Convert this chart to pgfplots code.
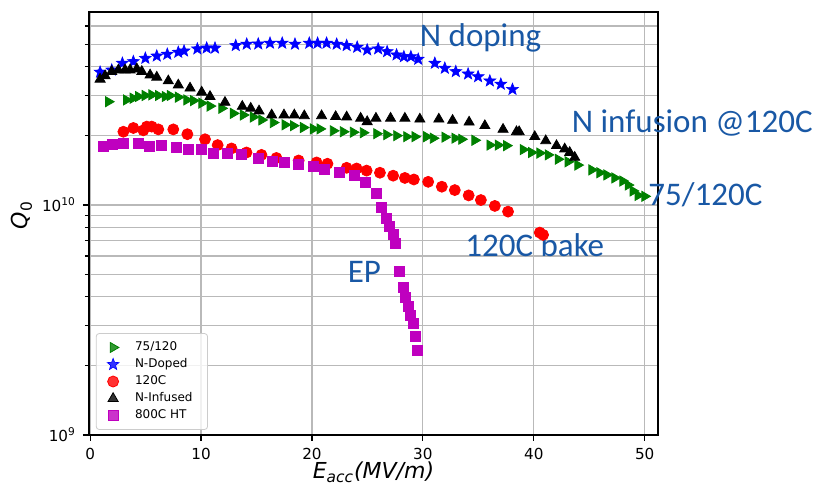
\documentclass[border=0pt]{standalone}
\usepackage{fontspec}
\setmainfont{DejaVu Sans}
\newfontfamily\calibri{Carlito}
\usepackage{pgfplots}
\pgfplotsset{compat=1.18}
\definecolor{annblue}{RGB}{25,88,165}
\definecolor{mplgreen}{RGB}{0,128,0}
\definecolor{mplmag}{RGB}{191,0,191}
\pgfdeclareplotmark{fstar}{%
  \pgfpathmoveto{\pgfqpointpolar{90}{\pgfplotmarksize}}%
  \pgfpathlineto{\pgfqpointpolar{126}{0.42\pgfplotmarksize}}%
  \pgfpathlineto{\pgfqpointpolar{162}{\pgfplotmarksize}}%
  \pgfpathlineto{\pgfqpointpolar{198}{0.42\pgfplotmarksize}}%
  \pgfpathlineto{\pgfqpointpolar{234}{\pgfplotmarksize}}%
  \pgfpathlineto{\pgfqpointpolar{270}{0.42\pgfplotmarksize}}%
  \pgfpathlineto{\pgfqpointpolar{306}{\pgfplotmarksize}}%
  \pgfpathlineto{\pgfqpointpolar{342}{0.42\pgfplotmarksize}}%
  \pgfpathlineto{\pgfqpointpolar{18}{\pgfplotmarksize}}%
  \pgfpathlineto{\pgfqpointpolar{54}{0.42\pgfplotmarksize}}%
  \pgfpathclose
  \pgfusepathqfillstroke}
\begin{document}
\begin{tikzpicture}
\path[use as bounding box] (-44.5pt,-28pt) rectangle (371.5pt,217.5pt);
\begin{axis}[
  at={(0,0)}, anchor=south west,
  scale only axis, width=284.5pt, height=211.5pt,
  ymode=log,
  xmin=-0.1, xmax=51.2, ymin=1e9, ymax=6.9e10,
  xtick={0,10,20,30,40,50},
  ytick={1e9,1e10},
  yticklabels={{10\textsuperscript{9}},{10\textsuperscript{10}}},
  minor ytick={2e9,3e9,4e9,5e9,6e9,7e9,8e9,9e9,2e10,3e10,4e10,5e10,6e10},
  xmajorgrids, ymajorgrids, yminorgrids,
  grid style={gray!55, line width=0.6pt},
  minor grid style={gray!55, line width=0.6pt},
  axis line style={line width=0.7pt},
  tick style={black, line width=0.6pt},
  tick align=outside, xtick pos=left, ytick pos=left,
  major tick length=3pt, minor tick length=2pt,
  tick label style={font=\fontsize{7.6}{7.6}\selectfont},
  /pgf/number format/assume math mode=true,
  xlabel={\textit{E}\textsubscript{\textit{acc}}\textit{(MV/m)}},
  ylabel={\textit{Q}\textsubscript{0}},
  label style={font=\fontsize{11}{11}\selectfont},
  xlabel style={at={(axis description cs:0.5,-0.088)}, anchor=center},
  ylabel style={at={(axis description cs:-0.118,0.52)}, anchor=center},
  clip=false,
  legend cell align=left,
  legend image code/.code={\draw[mark repeat=2,mark phase=2] plot coordinates {(0pt,0pt)(5.5pt,0pt)(11pt,0pt)};},
  legend style={font=\fontsize{6}{7}\selectfont, at={(0.012,0.012)}, anchor=south west,
    draw=gray!40, rounded corners=1.5pt, fill=white, fill opacity=0.8, text opacity=1,
    inner xsep=5.5pt, inner ysep=2pt, row sep=-1.5pt,
    /tikz/every odd column/.append style={column sep=6pt}},
]
% 75/120
\addplot[only marks, mark=triangle*, mark size=2.9pt, color=mplgreen, mark options={rotate=-90}] coordinates {
(1.65,2.81e10)(3.27,2.86e10)(3.87,2.91e10)(4.35,2.96e10)(4.95,2.99e10)(5.56,3.01e10)(6.15,2.99e10)(6.76,2.96e10)(7.21,2.99e10)(7.95,2.94e10)(8.71,2.86e10)(9.31,2.84e10)(10.06,2.77e10)(10.81,2.69e10)(11.86,2.63e10)(12.91,2.50e10)(13.81,2.46e10)(14.71,2.41e10)(15.47,2.34e10)(16.51,2.28e10)(17.57,2.23e10)(18.32,2.21e10)(19.22,2.17e10)(20.12,2.14e10)(20.72,2.14e10)(21.92,2.10e10)(22.82,2.08e10)(23.72,2.07e10)(24.62,2.06e10)(25.83,2.04e10)(26.73,2.02e10)(27.63,2.00e10)(28.53,1.98e10)(29.28,1.98e10)(30.33,1.98e10)(30.93,1.95e10)(31.98,1.97e10)(32.88,1.95e10)(33.49,1.93e10)(34.68,1.91e10)(36.04,1.82e10)(36.78,1.82e10)(37.54,1.81e10)(39.04,1.74e10)(39.79,1.69e10)(40.54,1.68e10)(41.29,1.65e10)(42.19,1.58e10)(43.09,1.54e10)(43.96,1.49e10)(45.23,1.42e10)(45.95,1.38e10)(46.58,1.35e10)(47.30,1.31e10)(48.02,1.27e10)(48.50,1.22e10)(48.95,1.15e10)(49.40,1.10e10)(50.0,1.09e10)
};
\addlegendentry{75/120}
% N-Doped
\addplot[only marks, mark=fstar, mark size=3.1pt, color=blue, mark options={fill=blue, line width=0.3pt}] coordinates {
(0.9,3.78e10)(1.95,3.86e10)(2.91,4.13e10)(3.90,4.20e10)(4.98,4.34e10)(6.01,4.44e10)(6.96,4.52e10)(7.95,4.61e10)(8.47,4.67e10)(9.67,4.77e10)(10.51,4.81e10)(11.26,4.81e10)(13.13,4.93e10)(14.12,5.0e10)(15.16,5.01e10)(16.22,5.05e10)(17.32,5.05e10)(18.47,5.0e10)(19.76,5.05e10)(20.51,5.05e10)(21.32,5.05e10)(22.23,5.0e10)(23.13,4.93e10)(24.08,4.85e10)(24.98,4.72e10)(25.97,4.77e10)(26.78,4.64e10)(27.63,4.49e10)(28.29,4.41e10)(28.92,4.41e10)(29.58,4.30e10)(31.08,4.13e10)(31.98,3.93e10)(32.97,3.80e10)(34.08,3.71e10)(34.98,3.61e10)(36.04,3.46e10)(37.03,3.35e10)(38.08,3.18e10)
};
\addlegendentry{N-Doped}
% 120C
\addplot[only marks, mark=*, mark size=2.75pt, color=red] coordinates {
(3.00,2.08e10)(3.90,2.16e10)(4.80,2.11e10)(5.11,2.19e10)(5.56,2.19e10)(6.15,2.13e10)(7.50,2.13e10)(8.77,2.03e10)(10.36,1.93e10)(11.50,1.82e10)(12.75,1.76e10)(14.10,1.69e10)(15.45,1.65e10)(16.80,1.60e10)(18.80,1.56e10)(20.42,1.53e10)(21.40,1.51e10)(23.13,1.45e10)(24.03,1.44e10)(24.93,1.41e10)(26.13,1.38e10)(27.32,1.34e10)(28.38,1.31e10)(29.19,1.29e10)(30.48,1.26e10)(31.71,1.20e10)(32.88,1.16e10)(34.13,1.10e10)(35.23,1.05e10)(36.49,0.99e10)(37.68,9.35e9)(40.54,7.58e9)(40.84,7.41e9)
};
\addlegendentry{120C}
% N-Infused
\addplot[only marks, mark=triangle*, mark size=2.9pt, color=black] coordinates {
(0.90,3.52e10)(1.35,3.64e10)(1.95,3.80e10)(2.55,3.86e10)(3.15,3.86e10)(3.60,3.86e10)(4.21,3.90e10)(4.66,3.80e10)(5.41,3.67e10)(6.01,3.59e10)(7.05,3.46e10)(7.95,3.32e10)(9.01,3.22e10)(10.06,3.09e10)(10.81,2.96e10)(12.16,2.79e10)(13.72,2.68e10)(14.48,2.63e10)(15.23,2.56e10)(16.37,2.46e10)(17.48,2.46e10)(18.41,2.46e10)(19.31,2.44e10)(20.87,2.44e10)(22.14,2.42e10)(23.13,2.41e10)(24.39,2.38e10)(24.98,2.30e10)(25.77,2.38e10)(27.09,2.38e10)(28.38,2.38e10)(29.73,2.36e10)(31.44,2.36e10)(32.68,2.33e10)(34.17,2.29e10)(35.59,2.21e10)(37.23,2.13e10)(38.44,2.08e10)(38.68,2.08e10)(40.09,1.98e10)(41.08,1.90e10)(42.05,1.81e10)(42.79,1.75e10)(43.24,1.69e10)(43.69,1.61e10)
};
\addlegendentry{N-Infused}
% 800C HT
\addplot[only marks, mark=square*, mark size=2.5pt, color=mplmag] coordinates {
(1.22,1.80e10)(2.00,1.83e10)(2.99,1.85e10)(4.34,1.85e10)(5.39,1.80e10)(6.47,1.81e10)(7.77,1.78e10)(8.87,1.74e10)(10.05,1.75e10)(11.14,1.67e10)(12.41,1.67e10)(13.65,1.65e10)(15.15,1.59e10)(16.42,1.55e10)(17.52,1.53e10)(18.80,1.50e10)(20.12,1.47e10)(21.14,1.42e10)(22.49,1.38e10)(23.83,1.35e10)(24.86,1.25e10)(25.77,1.12e10)(26.28,9.8e9)(26.73,8.75e9)(26.98,8.05e9)(27.34,7.44e9)(27.48,6.82e9)(27.86,5.16e9)(28.23,4.39e9)(28.47,3.97e9)(28.68,3.61e9)(28.92,3.32e9)(29.13,3.04e9)(29.37,2.68e9)(29.49,2.34e9)
};
\addlegendentry{800C HT}
% annotations
\node[anchor=base west, inner sep=0pt, text=annblue, font=\calibri\fontsize{16.5}{16.5}\selectfont] at (axis cs:29.7,4.86e10) {N doping};
\node[anchor=base west, inner sep=0pt, text=annblue, font=\calibri\fontsize{16.5}{16.5}\selectfont] at (axis cs:43.4,2.07e10) {N infusion @120C};
\node[anchor=base west, inner sep=0pt, text=annblue, font=\calibri\fontsize{16.5}{16.5}\selectfont] at (axis cs:50.3,9.9e9) {75/120C};
\node[anchor=base west, inner sep=0pt, text=annblue, font=\calibri\fontsize{16.5}{16.5}\selectfont] at (axis cs:33.8,5.96e9) {120C bake};
\node[anchor=base west, inner sep=0pt, text=annblue, font=\calibri\fontsize{16.5}{16.5}\selectfont] at (axis cs:23.2,4.59e9) {EP};
\end{axis}
\end{tikzpicture}
\end{document}
